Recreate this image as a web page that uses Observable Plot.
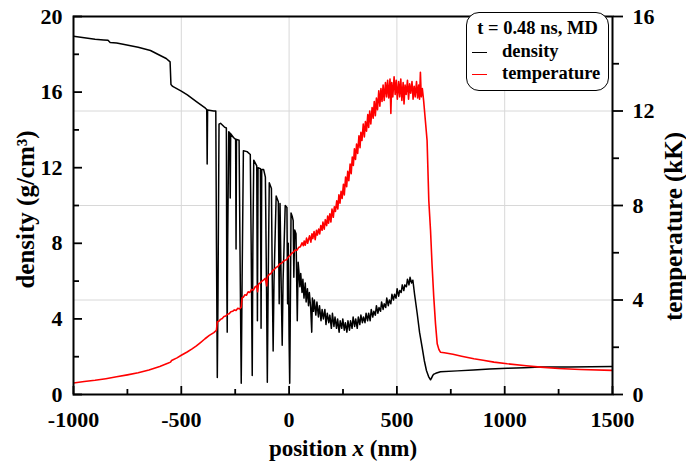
<!DOCTYPE html>
<html>
<head>
<meta charset="utf-8">
<script src="https://cdn.jsdelivr.net/npm/d3@7"></script>
<script src="https://cdn.jsdelivr.net/npm/@observablehq/plot@0.6"></script>
<style>
  body { margin: 0; background: #fff; }
  #wrap { position: relative; width: 686px; height: 462px; font-family: "Liberation Serif", "Times New Roman", serif; font-weight: bold; }
  #chart svg text { font-family: "Liberation Serif", "Times New Roman", serif !important; font-weight: bold; }
  #legend { position: absolute; left: 466px; top: 12px; width: 143px; height: 79px; box-sizing: border-box;
            border: 1.5px solid #000; border-radius: 13px; background: #fff; font-size: 18.5px; line-height: 22.5px; padding-top: 4px; }
  #legend .ttl { text-align: center; }
  #legend .row { padding-left: 5px; white-space: nowrap; }
  #legend .sw { display: inline-block; width: 15px; height: 0; border-top: 1.5px solid; vertical-align: middle; margin-right: 15px; }
</style>
</head>
<body>
<div id="wrap">
  <div id="chart"></div>
  <div id="legend">
    <div class="ttl">t = 0.48 ns, MD</div>
    <div class="row"><span class="sw" style="border-color:#000"></span>density</div>
    <div class="row"><span class="sw" style="border-color:#f00"></span>temperature</div>
  </div>
</div>
<script>
// ---- data ----
const xTicks = [-1000, -500, 0, 500, 1000, 1500];
const xMinorTicks = [-750, -250, 250, 750, 1250];
const xGrid = [-500, 0, 500, 1000];
const densityTicks = [0, 4, 8, 12, 16, 20];
const densityMinorTicks = [2, 6, 10, 14, 18];
const tempTicks = [0, 4, 8, 12, 16];
const tempMinorTicks = [2, 6, 10, 14];
const tempGrid = [4, 8, 12];

// density (g/cm^3) vs position (nm)
const density = [
  [-1000, 18.95], [-950, 18.87], [-900, 18.8], [-860, 18.76], [-840, 18.74], [-830, 18.62], [-800, 18.6], [-770, 18.53],
  [-700, 18.37], [-643, 18.2], [-600, 17.95], [-570, 17.78], [-552, 17.6], [-548, 16.4], [-540, 16.3], [-500, 16.05],
  [-472, 15.85], [-430, 15.5], [-388, 15.15], [-382, 15.08], [-380, 12.2], [-378, 15.05], [-350, 15.0], [-340, 15.0],
  [-337, 8], [-333, 0.9], [-330, 5], [-325, 14.3], [-318, 14.35], [-300, 14.15], [-291, 14.1], [-289, 6], [-287, 3.3],
  [-285, 8], [-280, 13.9], [-275, 13.85], [-273, 10.4], [-271, 13.8], [-258, 13.6], [-248, 13.5], [-246, 7.7],
  [-244, 13.5], [-232, 13.45], [-228, 8], [-222, 0.6], [-218, 6], [-212, 12.9], [-195, 12.85], [-180, 12.7],
  [-176, 8], [-171, 1.0], [-168, 8], [-164, 12.4], [-150, 12.1], [-147, 3.9], [-144, 12.0], [-133, 11.95],
  [-130, 3.5], [-127, 11.9], [-118, 11.9], [-110, 11.5], [-105, 6], [-101, 0.65], [-97, 6], [-92, 11.2],
  [-82, 10.9], [-78, 6], [-74, 2.3], [-70, 6], [-60, 10.5], [-50, 10.2], [-46, 4.8], [-42, 10.1], [-37, 6],
  [-32, 2.6], [-28, 6], [-18, 10.0], [-10, 9.9], [-7, 4.8], [-4, 8], [0, 3], [3, 0.6], [6, 5], [9, 9.6],
  [15, 9.4], [19, 9.2], [22, 6.2], [26, 8.7], [32, 8.5], [38, 3.9], [42, 7.0],
  [45, 6.6], [50, 5.7], [54, 6.4], [60, 5.4], [64, 6.1], [69, 5.1], [75, 5.9], [79, 4.9], [85, 5.6], [90, 4.7],
  [94, 5.4], [100, 4.6], [105, 3.3], [108, 5.1], [113, 4.4], [117, 5.0], [124, 4.2], [129, 4.9], [136, 4.1],
  [141, 4.7], [148, 3.9], [153, 4.5], [159, 4.0], [166, 4.5], [171, 3.7], [177, 4.3], [184, 3.8], [189, 4.2],
  [196, 3.5], [201, 4.3], [208, 3.6], [213, 4.1], [220, 3.5], [225, 4.0], [232, 3.3], [237, 3.9], [244, 3.5],
  [249, 4.0], [256, 3.4], [261, 3.8], [268, 3.3], [273, 3.9], [280, 3.4], [285, 3.9], [292, 3.5], [297, 4.1],
  [304, 3.6], [309, 4.0], [316, 3.5], [321, 4.1], [328, 3.7], [333, 4.2], [340, 3.8], [345, 4.1], [352, 3.8],
  [357, 4.3], [364, 3.9], [369, 4.3], [376, 3.9], [381, 4.5], [388, 4.1], [393, 4.4], [400, 4.2], [405, 4.7],
  [412, 4.3], [417, 4.6], [424, 4.4], [429, 4.9], [436, 4.5], [441, 4.8], [448, 4.6], [453, 5.1], [460, 4.7],
  [465, 5.0], [472, 4.8], [477, 5.3], [484, 5.0], [489, 5.3], [496, 5.1], [501, 5.6], [508, 5.2], [513, 5.5],
  [520, 5.4], [525, 5.8], [532, 5.5], [537, 5.8], [544, 5.7], [549, 6.1], [556, 5.8], [561, 6.2], [568, 5.9],
  [574, 6.05], [582, 5.3], [594, 4.3], [605, 3.3], [617, 2.5], [627, 1.8], [637, 1.27], [647, 0.95], [656, 0.78],
  [660, 0.85], [666, 1.0], [672, 1.08], [680, 1.12], [702, 1.2], [780, 1.25], [855, 1.3], [930, 1.35],
  [1012, 1.39], [1090, 1.42], [1166, 1.45], [1300, 1.46], [1400, 1.47], [1500, 1.48]
];

// temperature (kK) vs position (nm)
const temperature = [
  [-1000, 0.49], [-950, 0.55], [-900, 0.6], [-850, 0.67], [-800, 0.75], [-750, 0.83], [-700, 0.92], [-650, 1.04],
  [-600, 1.19], [-560, 1.33], [-550, 1.37], [-545, 1.44], [-520, 1.55], [-500, 1.66], [-473, 1.8], [-450, 1.93],
  [-430, 2.06], [-411, 2.2], [-390, 2.36], [-370, 2.5], [-349, 2.62], [-337, 2.72], [-333, 3.08], [-326, 3.1],
  [-318, 3.18], [-310, 3.22], [-302, 3.3], [-294, 3.32], [-286, 3.4], [-278, 3.42], [-270, 3.5], [-262, 3.52],
  [-254, 3.58], [-246, 3.56], [-238, 3.65], [-230, 3.62], [-222, 3.7], [-218, 4.1], [-212, 4.12], [-205, 4.22],
  [-198, 4.2], [-190, 4.35], [-182, 4.32], [-174, 4.45], [-166, 4.42], [-158, 4.55], [-150, 4.6], [-146, 4.35],
  [-142, 4.68], [-134, 4.72], [-126, 4.8], [-118, 4.85], [-110, 4.92], [-104, 4.6], [-100, 5.0], [-92, 5.08],
  [-84, 5.12], [-76, 5.25], [-68, 5.3], [-60, 5.38], [-52, 5.42], [-44, 5.52], [-36, 5.55], [-28, 5.62],
  [-20, 5.68], [-12, 5.7], [-4, 5.82], [4, 5.88], [12, 5.98], [20, 6.02], [28, 6.12], [36, 6.1], [44, 6.22],
  [52, 6.25], [60, 6.42], [66, 6.3], [70, 6.5], [75, 6.32], [81, 6.62], [86, 6.4], [90, 6.55], [95, 6.72],
  [101, 6.45], [106, 6.8], [110, 6.6], [116, 6.9], [121, 6.55], [127, 6.95], [131, 6.75], [137, 7.0], [142, 6.8],
  [147, 7.15], [153, 6.95], [157, 7.3], [163, 7.0], [168, 7.4], [174, 7.15], [179, 7.55], [183, 7.25], [189, 7.65],
  [194, 7.3], [199, 7.85], [205, 7.5], [210, 7.95], [215, 7.75], [221, 8.2], [226, 7.85], [231, 8.45], [236, 8.1],
  [241, 8.6], [246, 8.3], [252, 8.9], [256, 8.45], [262, 9.2], [267, 8.8], [272, 9.45], [277, 9.05], [283, 9.75],
  [288, 9.35], [293, 10.05], [298, 9.7], [303, 10.4], [308, 9.95], [313, 10.6], [318, 10.2], [324, 10.95],
  [329, 10.45], [333, 11.1], [338, 10.75], [344, 11.45], [349, 10.9], [354, 11.55], [359, 11.15], [365, 11.85],
  [369, 11.3], [374, 12.0], [379, 11.45], [385, 12.15], [390, 11.7], [395, 12.4], [400, 11.8], [405, 12.55],
  [410, 12.05], [416, 12.85], [421, 12.2], [426, 12.95], [431, 12.4], [436, 13.1], [441, 12.45], [447, 13.2],
  [452, 12.6], [457, 13.3], [462, 12.55], [468, 13.35], [472, 11.9], [476, 13.2], [481, 12.6], [487, 13.45],
  [492, 12.7], [497, 13.3], [502, 12.5], [508, 13.25], [513, 12.6], [518, 13.35], [523, 12.45], [529, 13.2],
  [533, 12.3], [538, 13.1], [543, 12.7], [549, 13.3], [554, 12.5], [559, 13.15], [564, 12.75], [570, 13.25],
  [575, 12.5], [580, 13.05], [585, 12.6], [591, 13.25], [596, 12.55], [601, 13.1], [605, 12.5], [609, 13.64],
  [613, 12.6], [618, 12.95], [624, 12.44], [632, 11.6], [640, 10.75], [648, 8.2], [656, 6.94], [663, 5.5],
  [671, 4.12], [679, 3.0], [687, 2.15], [695, 1.9], [702, 1.79], [720, 1.77], [760, 1.7], [800, 1.62],
  [857, 1.51], [900, 1.45], [950, 1.37], [1012, 1.3], [1100, 1.22], [1166, 1.16], [1250, 1.1], [1350, 1.06],
  [1500, 1.02]
];

// ---- chart ----
const W = 686, H = 462, mL = 73, mR = 74, mT = 16, mB = 68;
const frameW = W - mL - mR, frameH = H - mT - mB;
const k = 20 / 16; // temperature -> density-axis scale factor
const serif = '"Liberation Serif", "Times New Roman", serif';
const font = { fontFamily: serif, fontWeight: "bold" };

const chart = Plot.plot({
  width: W, height: H,
  marginLeft: mL, marginRight: mR, marginTop: mT, marginBottom: mB,
  style: { fontFamily: serif, fontWeight: "bold", fontSize: "22px", background: "white", overflow: "visible", color: "black" },
  x: { domain: [-1000, 1500] },
  y: { domain: [0, 20] },
  marks: [
    Plot.gridX(xGrid, { stroke: "#d8d8d8", strokeOpacity: 1, strokeWidth: 1 }),
    Plot.gridY(tempGrid.map(t => t * k), { stroke: "#d8d8d8", strokeOpacity: 1, strokeWidth: 1 }),
    Plot.line(density, { x: d => d[0], y: d => d[1], stroke: "black", strokeWidth: 1.5, clip: true }),
    Plot.line(temperature, { x: d => d[0], y: d => d[1] * k, stroke: "red", strokeWidth: 1.6, clip: true }),
    Plot.frame({ stroke: "black", strokeWidth: 2 }),
    // inward ticks: left (density) and bottom (position)
    Plot.tickY(densityTicks, { y: d => d, insetRight: frameW - 9, stroke: "black", strokeWidth: 1.8 }),
    Plot.tickY(densityMinorTicks, { y: d => d, insetRight: frameW - 6, stroke: "black", strokeWidth: 1.8 }),
    Plot.tickX(xTicks, { x: d => d, insetTop: frameH - 8, stroke: "black", strokeWidth: 1.8 }),
    Plot.tickX(xMinorTicks, { x: d => d, insetTop: frameH - 5, stroke: "black", strokeWidth: 1.8 }),
    // tick labels
    Plot.axisX(xTicks, { ...font, tickSize: 0, tickPadding: 17, fontSize: 22, tickFormat: d => String(d), label: null }),
    Plot.axisY(densityTicks, { ...font, anchor: "left", tickSize: 0, tickPadding: 11, fontSize: 22, tickFormat: d => String(d), label: null }),
    // right (temperature) axis, outward ticks
    Plot.axisY(tempTicks.map(t => t * k), { ...font, anchor: "right", tickSize: 10, tickPadding: 10, fontSize: 22,
      strokeWidth: 1.8, tickFormat: d => String(Math.round(d / k)), label: null }),
    Plot.axisY(tempMinorTicks.map(t => t * k), { anchor: "right", tickSize: 6, strokeWidth: 1.8, tickFormat: () => "", label: null }),
    // axis titles
    Plot.text(["density (g/cm³)"], { ...font, text: d => d, frameAnchor: "left", textAnchor: "middle", lineAnchor: "middle",
      dx: -48, dy: 4, rotate: -90, fontSize: 25 }),
    Plot.text(["temperature (kK)"], { ...font, text: d => d, frameAnchor: "right", textAnchor: "middle", lineAnchor: "middle",
      dx: 61, dy: 21, rotate: -90, fontSize: 25 }),
    Plot.text(["position x (nm)"], { ...font, text: d => d, frameAnchor: "bottom", textAnchor: "middle", lineAnchor: "middle",
      dy: 54, fontSize: 23 })
  ]
});
document.getElementById("chart").appendChild(chart);

// serif digits everywhere, no tabular-nums substitution
d3.select(chart).selectAll("g").attr("font-variant", null);

// italic "x" in the position axis title
d3.select(chart).selectAll("text")
  .filter(function () { return this.textContent === "position x (nm)"; })
  .each(function () {
    const t = d3.select(this);
    t.text(null);
    t.append("tspan").text("position ");
    t.append("tspan").attr("font-style", "italic").text("x");
    t.append("tspan").text(" (nm)");
  });
</script>
</body>
</html>
